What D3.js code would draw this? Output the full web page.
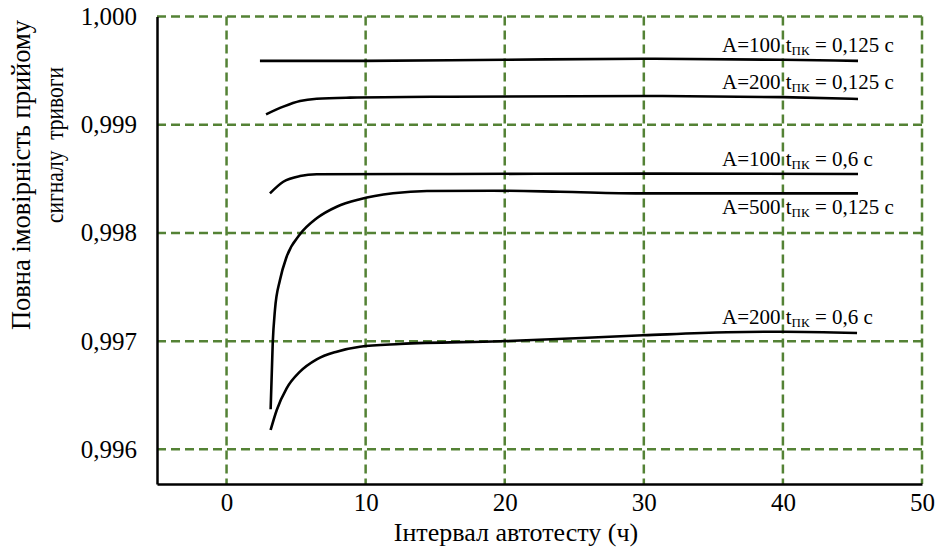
<!DOCTYPE html>
<html>
<head>
<meta charset="utf-8">
<script src="https://cdn.jsdelivr.net/npm/d3@7"></script>
<style>
  html, body { margin: 0; padding: 0; background: #fff; }
</style>
</head>
<body>
<svg id="chart" width="938" height="550"></svg>
<script>
// Interval of the auto-test, hours
const xTicks = [0, 10, 20, 30, 40, 50];
const yTicks = [0.996, 0.997, 0.998, 0.999, 1.000];
const yTickLabels = ["0,996", "0,997", "0,998", "0,999", "1,000"];

// Series: [interval (h), full probability of receiving the alarm signal]
const a100t0125 = [[2.4, 0.99959], [10, 0.99959], [20, 0.99960], [30, 0.99961], [40, 0.99960], [45.4, 0.99959]];
const a200t0125 = [[2.84, 0.999096], [4.08, 0.999167], [5.28, 0.999219], [6.48, 0.999240], [8.87, 0.999250],
                   [16.07, 0.999259], [30.0, 0.999265], [40.0, 0.999255], [45.4, 0.999238]];
const a100t06 = [[3.12, 0.998366], [4.08, 0.998473], [5.28, 0.998526], [6.48, 0.998542], [16.07, 0.998545],
                 [30, 0.998548], [45.4, 0.998545]];
const a500t0125 = [[3.17, 0.99637], [3.32, 0.99698], [3.48, 0.997288], [3.84, 0.997565], [4.32, 0.997780],
                   [5.28, 0.997987], [6.48, 0.998135], [7.92, 0.998242], [9.59, 0.998311], [11.97, 0.998366],
                   [14.41, 0.998388], [19.16, 0.998390], [23.97, 0.998381], [29.73, 0.998366], [45.4, 0.998366]];
const a200t06 = [[3.17, 0.996179], [3.61, 0.996364], [4.32, 0.996564], [5.28, 0.996718], [6.48, 0.996832],
                 [7.92, 0.996903], [9.59, 0.996949], [12.47, 0.996974], [19.66, 0.996999], [29.94, 0.997054],
                 [35.98, 0.997082], [40.0, 0.997087], [45.33, 0.997075]];

const series = [a100t0125, a200t0125, a100t06, a500t0125, a200t06];
const labelA = ["A=100", "A=200", "A=100", "A=500", "A=200"];
const labelT = ["0,125", "0,125", "0,6", "0,125", "0,6"];
// label anchor (baseline start): [x in hours, value]
const labelPos = [[35.62, 0.999675], [35.62, 0.99933], [35.62, 0.998621], [35.62, 0.998175], [35.62, 0.997159]];

const FONT = "Liberation Serif";

const svg = d3.select("#chart");
const x = d3.scaleLinear().domain([-5, 50]).range([157, 922]);
const y = d3.scaleLinear().domain([0.99568, 1.0]).range([484, 16.5]);

const gridColor = "#548235";

// dashed grid
const grid = svg.append("g");
grid.selectAll("line.v").data(xTicks).join("line")
  .attr("x1", d => x(d)).attr("x2", d => x(d))
  .attr("y1", y.range()[1]).attr("y2", y.range()[0])
  .attr("stroke", gridColor).attr("stroke-width", 2.5).attr("stroke-dasharray", "9,5");
grid.selectAll("line.h").data(yTicks).join("line")
  .attr("x1", x.range()[0]).attr("x2", x.range()[1])
  .attr("y1", d => y(d)).attr("y2", d => y(d))
  .attr("stroke", gridColor).attr("stroke-width", 2.5).attr("stroke-dasharray", "9,5");

// axes
const xAxis = d3.axisBottom(x).tickValues(xTicks).tickSize(0).tickPadding(9);
const gx = svg.append("g").attr("transform", `translate(0,${y.range()[0]})`).call(xAxis)
  .attr("font-family", FONT).attr("font-size", 25);
gx.select(".domain").attr("stroke", "#000").attr("stroke-width", 2.5);
gx.selectAll("text").attr("font-family", FONT).attr("font-size", 25).attr("fill", "#000");

const yAxis = d3.axisLeft(y).tickValues(yTicks).tickSize(0).tickPadding(20)
  .tickFormat((d, i) => yTickLabels[i]);
const gy = svg.append("g").attr("transform", `translate(${x.range()[0]},0)`).call(yAxis)
  .attr("font-family", FONT).attr("font-size", 25);
gy.select(".domain").attr("stroke", "#000").attr("stroke-width", 2.5);
gy.selectAll("text").attr("font-family", FONT).attr("font-size", 25).attr("fill", "#000");

// curves
const line = d3.line().x(d => x(d[0])).y(d => y(d[1])).curve(d3.curveMonotoneX);
svg.append("g").selectAll("path").data(series).join("path")
  .attr("d", line).attr("fill", "none").attr("stroke", "#000").attr("stroke-width", 2.6);

// curve labels
const labels = svg.append("g").selectAll("text").data(labelPos).join("text")
  .attr("x", d => x(d[0])).attr("y", d => y(d[1]))
  .attr("font-family", FONT).attr("font-size", 21);
labels.each(function(d, i) {
  const t = d3.select(this);
  t.append("tspan").text(labelA[i] + " t");
  t.append("tspan").attr("dy", 3).attr("font-size", 13).text("ПК");
  t.append("tspan").attr("dy", -3).text(" = " + labelT[i] + " с");
});

// axis titles
svg.append("text").attr("x", 516).attr("y", 541).attr("text-anchor", "middle")
  .attr("font-family", FONT).attr("font-size", 26).text("Інтервал автотесту (ч)");
svg.append("text").attr("transform", "translate(30,175) rotate(-90)").attr("text-anchor", "middle")
  .attr("font-family", FONT).attr("font-size", 26.5).text("Повна імовірність прийому");
svg.append("text").attr("transform", "translate(63,145) rotate(-90)").attr("text-anchor", "middle")
  .attr("font-family", FONT).attr("font-size", 25).attr("xml:space", "preserve")
  .attr("textLength", 156).attr("lengthAdjust", "spacingAndGlyphs").text("сигналу  тривоги");
</script>
</body>
</html>
